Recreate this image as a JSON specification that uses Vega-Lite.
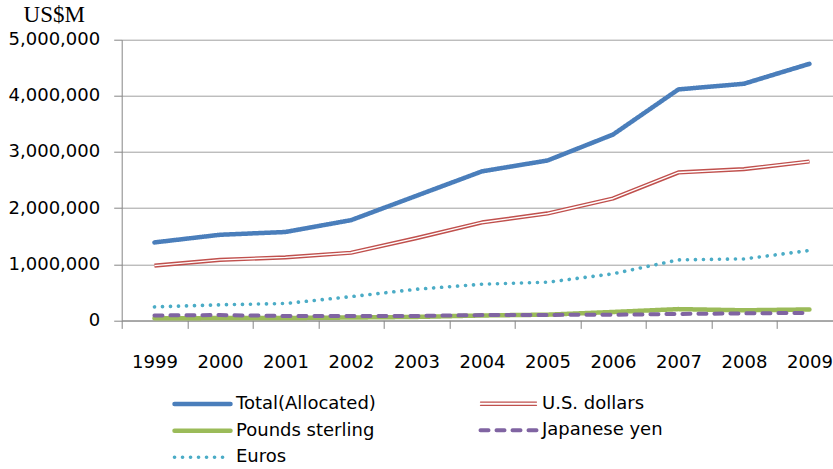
{
  "$schema": "https://vega.github.io/schema/vega-lite/v6.json",
  "autosize": "none",
  "padding": {"left": 121.7, "top": 39.7, "right": 0, "bottom": 148.6},
  "width": 711.3,
  "height": 280.7,
  "background": "white",
  "config": {
    "view": {"stroke": null},
    "font": "DejaVu Sans"
  },
  "data": {
    "values": [
      {"year": "1999", "series": "Total(Allocated)", "value": 1389000},
      {"year": "2000", "series": "Total(Allocated)", "value": 1525000},
      {"year": "2001", "series": "Total(Allocated)", "value": 1575000},
      {"year": "2002", "series": "Total(Allocated)", "value": 1785000},
      {"year": "2003", "series": "Total(Allocated)", "value": 2220000},
      {"year": "2004", "series": "Total(Allocated)", "value": 2655000},
      {"year": "2005", "series": "Total(Allocated)", "value": 2848000},
      {"year": "2006", "series": "Total(Allocated)", "value": 3310000},
      {"year": "2007", "series": "Total(Allocated)", "value": 4115000},
      {"year": "2008", "series": "Total(Allocated)", "value": 4215000},
      {"year": "2009", "series": "Total(Allocated)", "value": 4570000},
      {"year": "1999", "series": "U.S. dollars", "value": 975000},
      {"year": "2000", "series": "U.S. dollars", "value": 1079000},
      {"year": "2001", "series": "U.S. dollars", "value": 1122000},
      {"year": "2002", "series": "U.S. dollars", "value": 1205000},
      {"year": "2003", "series": "U.S. dollars", "value": 1465000},
      {"year": "2004", "series": "U.S. dollars", "value": 1745000},
      {"year": "2005", "series": "U.S. dollars", "value": 1905000},
      {"year": "2006", "series": "U.S. dollars", "value": 2172000},
      {"year": "2007", "series": "U.S. dollars", "value": 2635000},
      {"year": "2008", "series": "U.S. dollars", "value": 2695000},
      {"year": "2009", "series": "U.S. dollars", "value": 2830000},
      {"year": "1999", "series": "Pounds sterling", "value": 37000},
      {"year": "2000", "series": "Pounds sterling", "value": 42000},
      {"year": "2001", "series": "Pounds sterling", "value": 42000},
      {"year": "2002", "series": "Pounds sterling", "value": 51000},
      {"year": "2003", "series": "Pounds sterling", "value": 62000},
      {"year": "2004", "series": "Pounds sterling", "value": 88000},
      {"year": "2005", "series": "Pounds sterling", "value": 102000},
      {"year": "2006", "series": "Pounds sterling", "value": 150000},
      {"year": "2007", "series": "Pounds sterling", "value": 201000},
      {"year": "2008", "series": "Pounds sterling", "value": 180000},
      {"year": "2009", "series": "Pounds sterling", "value": 195000},
      {"year": "1999", "series": "Japanese yen", "value": 88000},
      {"year": "2000", "series": "Japanese yen", "value": 95000},
      {"year": "2001", "series": "Japanese yen", "value": 79000},
      {"year": "2002", "series": "Japanese yen", "value": 77000},
      {"year": "2003", "series": "Japanese yen", "value": 80000},
      {"year": "2004", "series": "Japanese yen", "value": 95000},
      {"year": "2005", "series": "Japanese yen", "value": 98000},
      {"year": "2006", "series": "Japanese yen", "value": 100000},
      {"year": "2007", "series": "Japanese yen", "value": 115000},
      {"year": "2008", "series": "Japanese yen", "value": 125000},
      {"year": "2009", "series": "Japanese yen", "value": 135000},
      {"year": "1999", "series": "Euros", "value": 240000},
      {"year": "2000", "series": "Euros", "value": 278000},
      {"year": "2001", "series": "Euros", "value": 301000},
      {"year": "2002", "series": "Euros", "value": 424000},
      {"year": "2003", "series": "Euros", "value": 555000},
      {"year": "2004", "series": "Euros", "value": 645000},
      {"year": "2005", "series": "Euros", "value": 680000},
      {"year": "2006", "series": "Euros", "value": 830000},
      {"year": "2007", "series": "Euros", "value": 1078000},
      {"year": "2008", "series": "Euros", "value": 1095000},
      {"year": "2009", "series": "Euros", "value": 1245000}
    ]
  },
  "encoding": {
    "x": {
      "field": "year",
      "type": "ordinal",
      "bandPosition": 0.5,
      "scale": {"type": "band", "range": [0, 720.5], "paddingInner": 0, "paddingOuter": 0},
      "axis": {
        "title": null,
        "labelAngle": 0,
        "tickBand": "extent",
        "grid": false,
        "domainColor": "#868686",
        "tickColor": "#868686",
        "tickSize": 8,
        "labelFont": "DejaVu Sans",
        "labelFontSize": 18,
        "labelColor": "#000000",
        "labelPadding": 25,
        "labelOverlap": false,
        "labelBound": false,
        "labelFlush": false
      }
    },
    "y": {
      "field": "value",
      "type": "quantitative",
      "scale": {"domain": [0, 5000000], "nice": false},
      "axis": {
        "values": [0, 1000000, 2000000, 3000000, 4000000, 5000000],
        "format": ",.0f",
        "title": "US$M",
        "titleAngle": 0,
        "titleX": -68,
        "titleY": -18.7,
        "titleAlign": "center",
        "titleBaseline": "alphabetic",
        "titleFont": "Liberation Serif",
        "titleFontSize": 23,
        "titleFontWeight": "normal",
        "titleColor": "#000000",
        "grid": true,
        "gridColor": "#a0a0a0",
        "gridWidth": 1,
        "domainColor": "#868686",
        "tickColor": "#868686",
        "tickSize": 8,
        "labelFont": "DejaVu Sans",
        "labelFontSize": 18,
        "labelColor": "#000000",
        "labelPadding": 14
      }
    }
  },
  "layer": [
    {
      "mark": {"type": "line", "strokeCap": "round", "strokeJoin": "round"},
      "encoding": {
        "color": {
          "field": "series",
          "type": "nominal",
          "scale": {
            "domain": ["Total(Allocated)", "U.S. dollars", "Pounds sterling", "Japanese yen", "Euros"],
            "range": ["#4a7ebb", "#c0504d", "#9bbb59", "#8064a2", "#4bacc6"]
          },
          "legend": {
            "orient": "none",
            "direction": "horizontal",
            "legendX": 71.3,
            "legendY": 354.5,
            "columns": 2,
            "title": null,
            "padding": 0,
            "symbolType": "M-4,0H4",
            "symbolSize": 196,
            "labelFont": "DejaVu Sans",
            "labelFontSize": 18,
            "labelColor": "#000000",
            "labelOffset": 24,
            "columnPadding": 96,
            "rowPadding": 8,
            "labelLimit": 300,
            "encode": {
              "symbols": {
                "update": {
                  "strokeCap": {"value": "round"},
                  "shape": {"signal": "datum.value === 'U.S. dollars' ? 'M-4,-0.23H4M-4,0.23H4' : 'M-4,0H4'"}
                }
              }
            }
          }
        },
        "strokeDash": {
          "field": "series",
          "type": "nominal",
          "scale": {
            "domain": ["Total(Allocated)", "U.S. dollars", "Pounds sterling", "Japanese yen", "Euros"],
            "range": [[1, 0], [1, 0], [1, 0], [8, 8], [0.1, 7.9]]
          },
          "legend": null
        },
        "strokeWidth": {
          "field": "series",
          "type": "nominal",
          "scale": {
            "type": "ordinal",
            "domain": ["Total(Allocated)", "U.S. dollars", "Pounds sterling", "Japanese yen", "Euros"],
            "range": [4.5, 1.3, 4.5, 4, 3.6]
          },
          "legend": null
        }
      }
    },
    {
      "transform": [{"filter": "datum.series === 'U.S. dollars'"}],
      "mark": {"type": "line", "color": "#c0504d", "strokeWidth": 4.2, "strokeJoin": "round"},
      "encoding": {}
    },
    {
      "transform": [{"filter": "datum.series === 'U.S. dollars'"}],
      "mark": {"type": "line", "color": "white", "strokeWidth": 1.4, "strokeJoin": "round"},
      "encoding": {}
    }
  ]
}
